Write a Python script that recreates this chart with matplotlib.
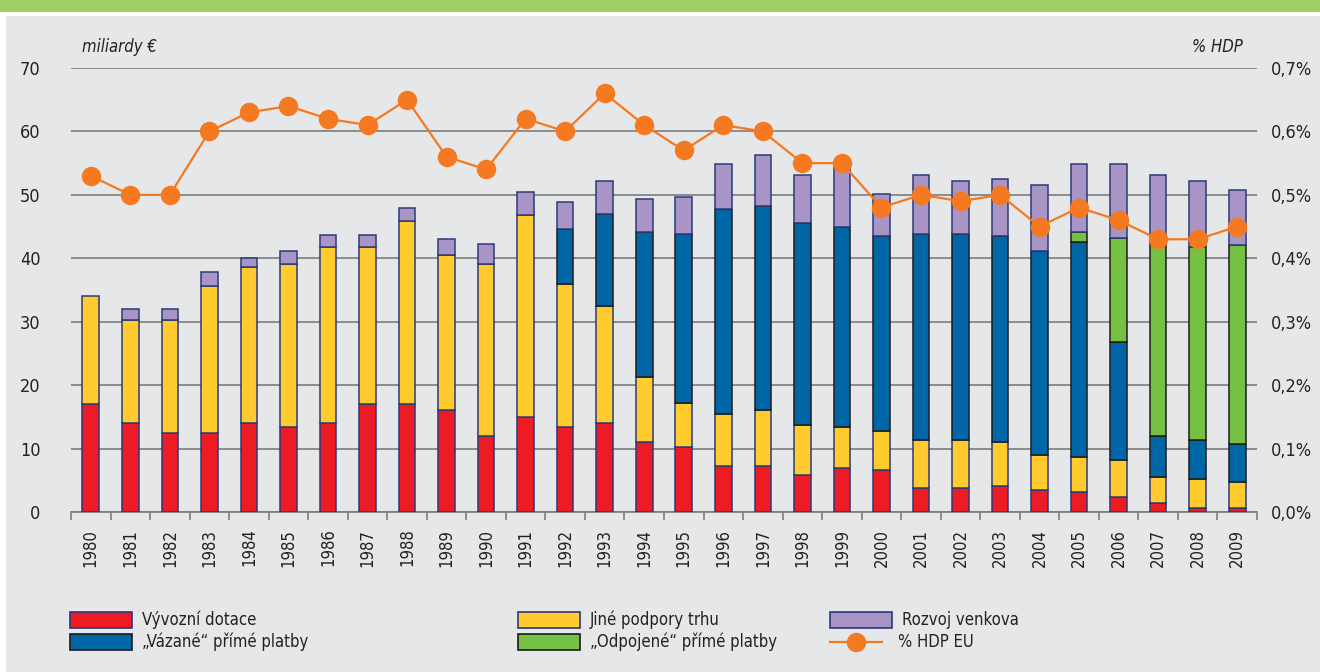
import numpy as np
import matplotlib
matplotlib.use("Agg")
import matplotlib.pyplot as plt
from matplotlib.patches import Rectangle
from matplotlib.lines import Line2D
from matplotlib.ticker import FixedLocator, FuncFormatter

plt.rcParams['font.family'] = ['Liberation Sans Narrow', 'DejaVu Sans']
plt.rcParams['font.stretch'] = 'condensed'

# ----------------------------
# Data (miliardy EUR, % HDP)
# ----------------------------
years = list(range(1980, 2010))

vyvozni = [17.0, 14.1, 12.4, 12.4, 14.1, 13.4, 14.1, 17.1, 17.1, 16.1,
           12.0, 14.9, 13.4, 14.1, 11.0, 10.3, 7.25, 7.25, 5.9, 7.0,
           6.6, 3.8, 3.8, 4.15, 3.5, 3.2, 2.4, 1.4, 0.7, 0.7]
jine = [17.1, 16.1, 17.8, 23.2, 24.6, 25.7, 27.7, 24.7, 28.8, 24.4,
        27.1, 32.0, 22.5, 18.4, 10.3, 6.9, 8.15, 8.85, 7.8, 6.4,
        6.1, 7.55, 7.55, 6.85, 5.5, 5.4, 5.8, 4.1, 4.5, 4.1]
vazane = [0, 0, 0, 0, 0, 0, 0, 0, 0, 0,
          0, 0, 8.7, 14.5, 22.8, 26.6, 32.3, 32.2, 31.9, 31.5,
          30.8, 32.55, 32.55, 32.5, 32.1, 33.9, 18.55, 6.5, 6.15, 5.9]
odpojene = [0, 0, 0, 0, 0, 0, 0, 0, 0, 0,
            0, 0, 0, 0, 0, 0, 0, 0, 0, 0,
            0, 0, 0, 0, 0, 1.7, 16.45, 30.4, 30.45, 31.4]
rozvoj = [0, 1.8, 1.8, 2.2, 1.4, 2.1, 1.8, 1.8, 2.1, 2.5,
          3.2, 3.6, 4.2, 5.2, 5.2, 5.9, 7.2, 8.0, 7.6, 9.6,
          6.6, 9.3, 8.3, 9.0, 10.4, 10.7, 11.7, 10.8, 10.4, 8.7]
hdp = [0.53, 0.50, 0.50, 0.60, 0.63, 0.64, 0.62, 0.61, 0.65, 0.56,
       0.54, 0.62, 0.60, 0.66, 0.61, 0.57, 0.61, 0.60, 0.55, 0.55,
       0.48, 0.50, 0.49, 0.50, 0.45, 0.48, 0.46, 0.43, 0.43, 0.45]

series = [
    ("Vývozní dotace", vyvozni, "#ed1c24", "#2b3a78"),
    ("Jiné podpory trhu", jine, "#ffcb2f", "#2b3a78"),
    ("\u201eVázané\u201c přímé platby", vazane, "#0066a6", "#1c1c1c"),
    ("\u201eOdpojené\u201c přímé platby", odpojene, "#76c043", "#1c1c1c"),
    ("Rozvoj venkova", rozvoj, "#a895c5", "#2b3a78"),
]
orange = "#f47920"

# ----------------------------
# Figure
# ----------------------------
fig = plt.figure(figsize=(13.2, 6.72), dpi=100)
fig.patch.set_facecolor("white")
fig.add_artist(Rectangle((0, 1 - 12 / 672), 1, 12 / 672, transform=fig.transFigure,
                         facecolor="#a0cf67", edgecolor="none", zorder=-10))
fig.add_artist(Rectangle((6 / 1320, 0), 1, 1 - 16 / 672, transform=fig.transFigure,
                         facecolor="#e6e7e8", edgecolor="none", zorder=-10))

ax = fig.add_axes([71 / 1320, 160 / 672, 1186 / 1320, 444 / 672])
ax.set_facecolor("none")
x = np.arange(len(years))
bottom = np.zeros(len(years))
for name, vals, fc, ec in series:
    vals = np.array(vals)
    mask = vals > 0
    ax.bar(x[mask], vals[mask], width=0.42, bottom=bottom[mask], color=fc,
           edgecolor=ec, linewidth=1.1, zorder=3)
    bottom += vals

ax.set_xlim(-0.5, len(years) - 0.5)
ax.set_ylim(0, 70)
ax.set_yticks(range(0, 71, 10))
ax.yaxis.grid(True, color="#7d7d7d", linewidth=1.2)
ax.set_axisbelow(True)
for s in ["top", "right", "left"]:
    ax.spines[s].set_visible(False)
ax.spines["bottom"].set_color("#7d7d7d")
ax.spines["bottom"].set_linewidth(1.2)
ax.tick_params(axis="y", length=0, labelsize=13, pad=22, labelcolor="#222222")
ax.set_xticks(x)
ax.set_xticklabels([str(y) for y in years], rotation=90, fontsize=12, color="#222222")
ax.tick_params(axis="x", which="major", length=0, pad=12)
ax.xaxis.set_minor_locator(FixedLocator(np.arange(-0.5, len(years), 1.0)))
ax.tick_params(axis="x", which="minor", length=6, width=1.2, color="#7d7d7d")

ax2 = ax.twinx()
ax2.plot(x, hdp, color=orange, linewidth=1.6, marker="o", markersize=14,
         markeredgewidth=0, zorder=5)
ax2.set_ylim(0, 0.7)
ax2.set_yticks(np.arange(0, 0.71, 0.1))
ax2.yaxis.set_major_formatter(FuncFormatter(lambda v, p: f"{v:.1f}%".replace(".", ",")))
ax2.tick_params(axis="y", length=0, labelsize=13, pad=10, labelcolor="#222222")
for s in ax2.spines.values():
    s.set_visible(False)

fig.text(82 / 1320, 1 - 47 / 672, "miliardy €", fontsize=12, style="italic",
         va="center", ha="left", color="#222222")
fig.text(1243 / 1320, 1 - 47 / 672, "% HDP", fontsize=12, style="italic",
         va="center", ha="right", color="#222222")

# ----------------------------
# Legend
# ----------------------------
cols = [70, 518, 830]
rows = [620, 642]
slots = [(0, 0), (0, 1), (1, 0), (1, 1), (0, 2)]
for (r, c), (name, vals, fc, ec) in zip(slots, series):
    x0 = cols[c] / 1320
    y0 = 1 - (rows[r] + 8) / 672
    fig.add_artist(Rectangle((x0, y0), 62 / 1320, 16 / 672, transform=fig.transFigure,
                             facecolor=fc, edgecolor=ec, linewidth=1.2))
    fig.text(x0 + 72 / 1320, 1 - rows[r] / 672, name, fontsize=12, va="center",
             ha="left", color="#222222")
yl = 1 - rows[1] / 672
fig.add_artist(Line2D([cols[2] / 1320, (cols[2] + 52) / 1320], [yl, yl],
                      transform=fig.transFigure, color=orange, linewidth=1.6))
fig.add_artist(Line2D([(cols[2] + 26) / 1320], [yl], transform=fig.transFigure,
                      color=orange, marker="o", markersize=14, markeredgewidth=0))
fig.text((cols[2] + 68) / 1320, yl, "% HDP EU", fontsize=12, va="center",
         ha="left", color="#222222")

fig.savefig("out.png", dpi=100)
